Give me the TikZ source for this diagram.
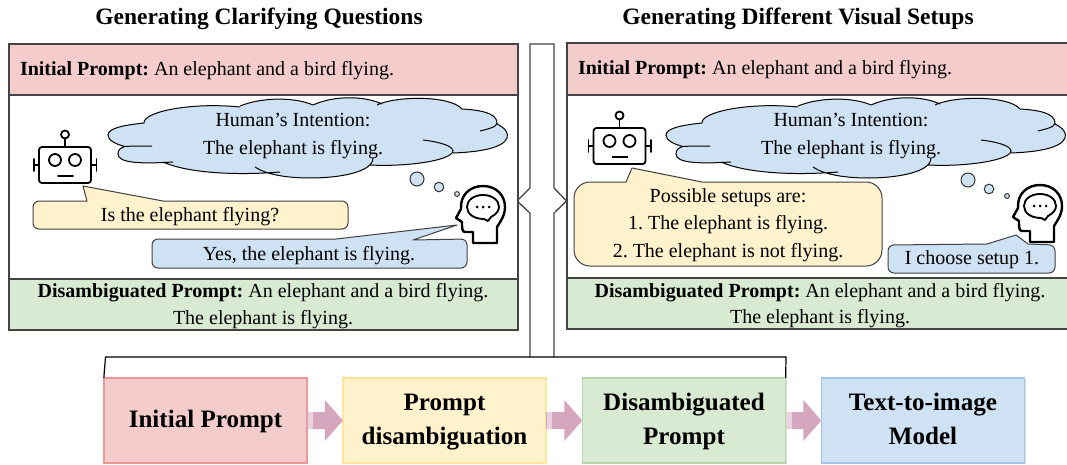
\documentclass[tikz,border=0pt]{standalone}
\usepackage{fontspec}
\setmainfont{Liberation Serif}
\frenchspacing
\usetikzlibrary{arrows.meta,shadows}
\definecolor{cpink}{HTML}{F4CCCC}
\definecolor{cyellow}{HTML}{FFF2CC}
\definecolor{cgreen}{HTML}{D9EAD3}
\definecolor{cblue}{HTML}{CFE2F3}
\definecolor{bpink}{HTML}{EA9999}
\definecolor{byellow}{HTML}{FFE599}
\definecolor{bgreen}{HTML}{B6D7A8}
\definecolor{bblue}{HTML}{9FC5E8}
\definecolor{panelline}{HTML}{444444}
\definecolor{arrowpink}{HTML}{D5A6BD}
\definecolor{arrowlight}{HTML}{EAD3DE}
\newcommand{\fs}{\fontsize{15pt}{18pt}\selectfont}
\newcommand{\cloudlobes}{
  (144,123) .. controls (143,112) and (190,102) .. (240,107)
  (240,106) .. controls (262,97) and (295,97) .. (313,105)
  (313,105) .. controls (335,95) and (365,96) .. (382,104)
  (377,105) .. controls (395,96) and (450,95) .. (462,109)
  (462,109) .. controls (480,110) and (497,113) .. (497,123) .. controls (497,127) and (488,129) .. (480,131)
  (497,124) .. controls (505,128) and (509,133) .. (507,138) .. controls (503,148) and (480,152) .. (453,153)
  (423,140) .. controls (440,142) and (453,146) .. (453,151) .. controls (452,160) and (410,167) .. (370,165)
  (373,158) .. controls (373,172) and (340,178) .. (310,178) .. controls (285,178) and (265,174) .. (255,167)
  (280,172) .. controls (230,176) and (185,172) .. (163,162)
  (173,162) .. controls (140,164) and (118,163) .. (118,154) .. controls (118,150) and (120,148) .. (125,146.5) .. controls (132,146) and (142,146) .. (152,146)
  (125,146.5) .. controls (115,144) and (108,140) .. (108,135) .. controls (108,128) and (125,125) .. (144,123)
}
\tikzset{
  rule/.style={draw=panelline,line width=1.1pt},
  txt/.style={inner sep=0pt,outer sep=0pt,font=\fs,text height=13.5pt,text depth=3.2pt},
  bubble/.style={draw=black!75,line width=.75pt,line join=round},
  title/.style={inner sep=0pt,font=\fontsize{17.6pt}{20pt}\selectfont\bfseries,text height=15pt,text depth=4pt},
  flow/.style={draw=#1,line width=1.1pt,minimum height=63.75pt,minimum width=152.5pt,inner sep=0pt,outer sep=0pt,align=center,
    font=\fontsize{18.8pt}{26pt}\selectfont\bfseries,drop shadow={opacity=.25,shadow xshift=.8pt,shadow yshift=-.8pt}},
  blockarrow/.style={line width=12.75pt,draw=arrowpink,-{Triangle[length=13.5pt,width=30pt]}},
  thought/.style={draw=black!80,fill=cblue,line width=.75pt},
  icon/.style={draw=black,line width=1.35pt,line join=round,line cap=round},
  cloudpic/.pic={
    \fill[cblue] (144,123) -- (160,111) -- (240,107) -- (265,102) -- (313,105) -- (347,100) -- (380,105) -- (420,100) -- (462,109) -- (497,123) -- (505,135) -- (453,153) -- (370,165) -- (330,176) -- (280,172) -- (211,171) -- (163,162) -- (140,162) -- (118,154) -- (125,146) -- (108,135) -- cycle;
    \fill[cblue] \cloudlobes;
    \draw[black,line width=.75pt] \cloudlobes;
  },
  robotpic/.pic={
    \draw[icon,rounded corners=2.2pt] (39,147) rectangle (91,183);
    \draw[icon] (55,160) circle[radius=6];
    \draw[icon] (75,160) circle[radius=6];
    \draw[icon] (58,176) -- (73,176);
    \draw[icon] (65,147) -- (65,139);
    \draw[icon] (65,134.5) circle[radius=4];
    \draw[icon] (34,165) -- (39,165);
    \draw[icon] (34,159) -- (34,171);
    \draw[icon] (91,165) -- (96.5,165);
    \draw[icon] (96.5,159) -- (96.5,171);
  },
  headpic/.pic={
    \draw[icon,line width=1.8pt] (497,243) -- (473,243) -- (473,232) -- (465,232)
      .. controls (462,232) and (462,228) .. (462,222) -- (456,218) -- (461,209)
      .. controls (460,195) and (470,186) .. (483,186)
      .. controls (497,186) and (505,196) .. (505,207)
      .. controls (505,216) and (500,222) .. (497,227) -- cycle;
    \draw[icon,line width=1.4pt] (491,217)
      .. controls (497,214) and (499,210) .. (499,207)
      .. controls (499,200) and (492,195) .. (483,195)
      .. controls (474,195) and (467,200) .. (467,207)
      .. controls (467,214) and (474,219) .. (484,219)
      -- (488,221) -- cycle;
    \fill (477,207) circle[radius=1.5];
    \fill (483,207) circle[radius=1.5];
    \fill (489,207) circle[radius=1.5];
  }
}
\begin{document}
\begin{tikzpicture}[x=0.75pt,y=-0.75pt]
\useasboundingbox (0,0) rectangle (1067,464);
\clip (0,0) rectangle (1067,464);
% titles
\node[title] (t1) at (259,17) {Generating Clarifying Questions};
\node[title] (t2) at (798,17) {Generating Different Visual Setups};
% centre link
\draw[rule,fill=white,line width=1pt] (530,357) -- (530,213) -- (517,201) -- (530,188) -- (530,44) -- (554,44) -- (554,188) -- (566.5,201) -- (554,213) -- (554,357);
\fill[white] (529.3,190) rectangle (554.7,212);
% left panel
\draw[rule,fill=white] (9,44) rectangle (518,330);
\path[rule,fill=cpink] (9,44) rectangle (518,95);
\path[rule,fill=cgreen] (9,279) rectangle (518,330);
\node[txt,anchor=west] (lp) at (20,69) {\textbf{Initial Prompt:} An elephant and a bird flying.};
\node[txt] (ld1) at (263,291) {\textbf{Disambiguated Prompt:} An elephant and a bird flying.};
\node[txt] (ld2) at (263,318) {The elephant is flying.};
\pic at (0,0) {cloudpic};
\node[txt] (lc1) at (293,120) {Human’s Intention:};
\node[txt] (lc2) at (293,148) {The elephant is flying.};
\draw[thought] (417,179) circle[radius=7];
\draw[thought] (439,187) circle[radius=4.8];
\draw[thought] (457,194) circle[radius=2.4];
\pic at (0,0) {robotpic};
\pic at (0,0) {headpic};
\draw[bubble,fill=cyellow] (87,201) [rounded corners=4.5pt] -- (33,201) -- (33,229) -- (348,229) -- (348,201) [sharp corners] -- (163,201) -- (83,186) -- cycle;
\node[txt] (lq) at (190,215) {Is the elephant flying?};
\draw[bubble,fill=cblue] (336,239) [rounded corners=4.5pt] -- (152,239) -- (152,268) -- (467,268) -- (467,239) [sharp corners] -- (413,240) -- (457,225) -- cycle;
\node[txt] (la) at (309,254) {Yes, the elephant is flying.};
% right panel
\draw[rule,fill=white] (567,43) rectangle (1080,329);
\path[rule,fill=cpink] (567,43) rectangle (1080,95);
\path[rule,fill=cgreen] (567,278) rectangle (1080,329);
\node[txt,anchor=west] (rp) at (578,68) {\textbf{Initial Prompt:} An elephant and a bird flying.};
\node[txt] (rd1) at (820,291) {\textbf{Disambiguated Prompt:} An elephant and a bird flying.};
\node[txt] (rd2) at (820,317) {The elephant is flying.};
\pic at (558,0) {cloudpic};
\node[txt] (rc1) at (851,120) {Human’s Intention:};
\node[txt] (rc2) at (851,148) {The elephant is flying.};
\draw[thought] (968,180) circle[radius=7];
\draw[thought] (989,189) circle[radius=4.8];
\draw[thought] (1007,196) circle[radius=2.4];
\pic at (554.5,-19) {robotpic};
\pic at (557,-1) {headpic};
\draw[bubble,fill=cyellow] (626,182) [rounded corners=12pt] -- (574,182) -- (574,266) -- (882,266) -- (882,182) [sharp corners] -- (702,182) -- (632,168) -- cycle;
\node[txt] (rs1) at (728,196) {Possible setups are:};
\node[txt] (rs2) at (728,223) {1. The elephant is flying.};
\node[txt] (rs3) at (728,251) {2. The elephant is not flying.};
\draw[bubble,fill=cblue] (987,244) [rounded corners=4.5pt] -- (888,245) -- (888,273) -- (1055,273) -- (1055,245) [sharp corners] -- (1028,244) -- (1016,235) -- cycle;
\node[txt] (ra) at (972,258) {I choose setup 1.};
% bottom flow
\node[flow=bpink,fill=cpink] (f1) at (205.5,420.5) {\strut Initial Prompt};
\node[flow=byellow,fill=cyellow] (f2) at (444.5,420.5) {\strut Prompt\\\strut disambiguation};
\node[flow=bgreen,fill=cgreen] (f3) at (684,420.5) {\strut Disambiguated\\\strut Prompt};
\node[flow=bblue,fill=cblue] (f4) at (923,420.5) {\strut Text-to-image\\\strut Model};
\coordinate (bl) at (105.5,357);
\coordinate (br) at (786,357);
\draw[black,line width=.9pt] (f1.north west) -- (bl) -- (br) -- (f3.north east);
\foreach \a/\b in {f1/f2,f2/f3,f3/f4}{
  \draw[blockarrow] (\a.east) -- (\b.west);
  \fill[arrowlight] ([yshift=-6.4pt,xshift=0.3pt]\a.east) rectangle ([yshift=6.4pt,xshift=4.5pt]\a.east);
}
\end{tikzpicture}
\end{document}
